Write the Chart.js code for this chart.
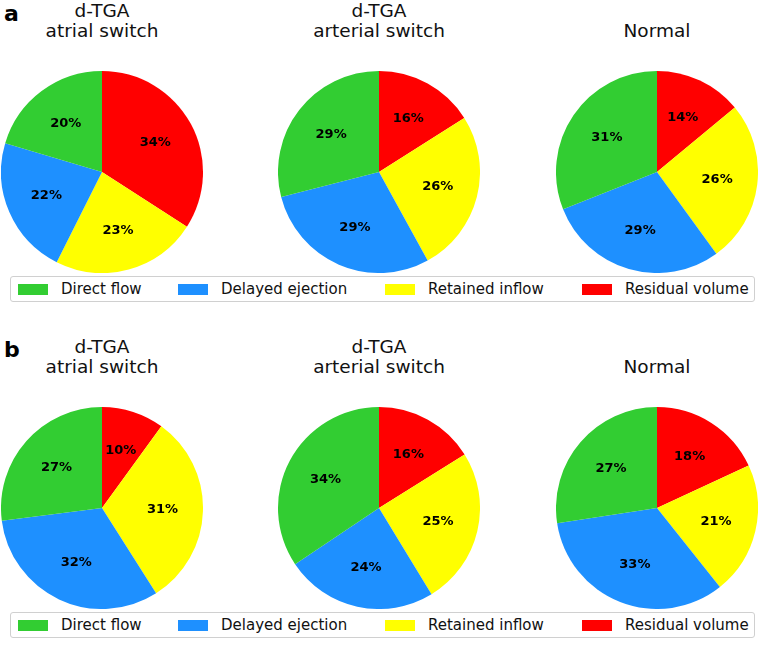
<!DOCTYPE html>
<html>
<head>
<meta charset="utf-8">
<script src="https://cdn.jsdelivr.net/npm/chart.js@4.4.1/dist/chart.umd.min.js"></script>
<style>
  body { margin: 0; background: #fff; font-family: 'DejaVu Sans', sans-serif; }
  #page { position: relative; width: 762px; height: 646px; overflow: hidden; }
  .panel-tag { position: absolute; left: 4px; font-weight: bold; font-size: 22px; line-height: 22px; }
  .title { position: absolute; width: 254px; text-align: center; font-size: 18.5px; line-height: 20px; color: #111; }
  canvas.pie { position: absolute; }
  .legend { position: absolute; left: 10px; width: 745px; height: 26px; border: 1px solid #d0d0d0; border-radius: 3px;
    display: flex; align-items: center; font-size: 15px; color: #111; box-sizing: border-box; }
  .legend .item { position: absolute; display: flex; align-items: center; }
  .legend .sw { width: 30px; height: 11px; margin-right: 13px; }
</style>
</head>
<body>
<div id="page"></div>
<script>
const categories = ['Direct flow', 'Delayed ejection', 'Retained inflow', 'Residual volume'];
const sliceColors = ['#32cd32', '#1e90ff', '#ffff00', '#ff0000'];
const titles = [['d-TGA', 'atrial switch'], ['d-TGA', 'arterial switch'], ['Normal']];

// values in legend order: Direct, Delayed, Retained, Residual
const rowA_atrial = [20.4, 22.2, 23.3, 34.1];
const rowA_arterial = [29, 29, 26, 16];
const rowA_normal = [31, 29, 26, 14];
const rowB_atrial = [27, 32, 31, 10];
const rowB_arterial = [34.4, 24.3, 25.2, 16.1];
const rowB_normal = [27.4, 33.3, 21.2, 18.1];

const rows = [
  { tag: 'a', top: 0, data: [rowA_atrial, rowA_arterial, rowA_normal] },
  { tag: 'b', top: 336, data: [rowB_atrial, rowB_arterial, rowB_normal] },
];
const centersX = [102, 379, 657];
const radius = 101;

// matplotlib-style autopct labels at 0.6 of the radius
const pctLabels = {
  id: 'pctLabels',
  afterDatasetsDraw(chart) {
    const ctx = chart.ctx;
    const values = chart.data.datasets[0].data;
    const total = values.reduce((s, v) => s + v, 0);
    const meta = chart.getDatasetMeta(0);
    ctx.save();
    ctx.font = 'bold 13px "DejaVu Sans"';
    ctx.fillStyle = '#000';
    ctx.textAlign = 'center';
    ctx.textBaseline = 'middle';
    meta.data.forEach((arc, i) => {
      const p = arc.getProps(['x', 'y', 'startAngle', 'endAngle', 'outerRadius'], true);
      const mid = (p.startAngle + p.endAngle) / 2;
      const r = p.outerRadius * 0.6;
      ctx.fillText(Math.round(values[i] / total * 100) + '%', p.x + Math.cos(mid) * r, p.y + Math.sin(mid) * r);
    });
    ctx.restore();
  }
};

const page = document.getElementById('page');

rows.forEach((row) => {
  const tag = document.createElement('div');
  tag.className = 'panel-tag';
  tag.style.top = (row.top + 3) + 'px';
  tag.textContent = row.tag;
  page.appendChild(tag);

  row.data.forEach((values, k) => {
    const t = document.createElement('div');
    t.className = 'title';
    t.style.left = (centersX[k] - 127) + 'px';
    const lines = titles[k];
    t.style.top = (row.top + (lines.length === 2 ? 1 : 21)) + 'px';
    t.innerHTML = lines.join('<br>');
    page.appendChild(t);

    const canvas = document.createElement('canvas');
    canvas.className = 'pie';
    canvas.width = radius * 2;
    canvas.height = radius * 2;
    canvas.style.left = (centersX[k] - radius) + 'px';
    canvas.style.top = (row.top + 172 - radius) + 'px';
    page.appendChild(canvas);

    // Chart.js goes clockwise from 12 o'clock, matplotlib counterclockwise: reverse order
    new Chart(canvas.getContext('2d'), {
      type: 'pie',
      data: {
        labels: categories.slice().reverse(),
        datasets: [{
          data: values.slice().reverse(),
          backgroundColor: sliceColors.slice().reverse(),
          borderWidth: 0,
        }],
      },
      options: {
        responsive: false,
        devicePixelRatio: 1,
        animation: false,
        layout: { padding: 0 },
        plugins: { legend: { display: false }, tooltip: { enabled: false } },
      },
      plugins: [pctLabels],
    });
  });

  const legend = document.createElement('div');
  legend.className = 'legend';
  legend.style.top = (row.top + 276) + 'px';
  const itemX = [7, 167, 374, 571];
  categories.forEach((name, i) => {
    const item = document.createElement('div');
    item.className = 'item';
    item.style.left = itemX[i] + 'px';
    item.innerHTML = '<span class="sw" style="background:' + sliceColors[i] + '"></span><span>' + name + '</span>';
    legend.appendChild(item);
  });
  page.appendChild(legend);
});
</script>
</body>
</html>
